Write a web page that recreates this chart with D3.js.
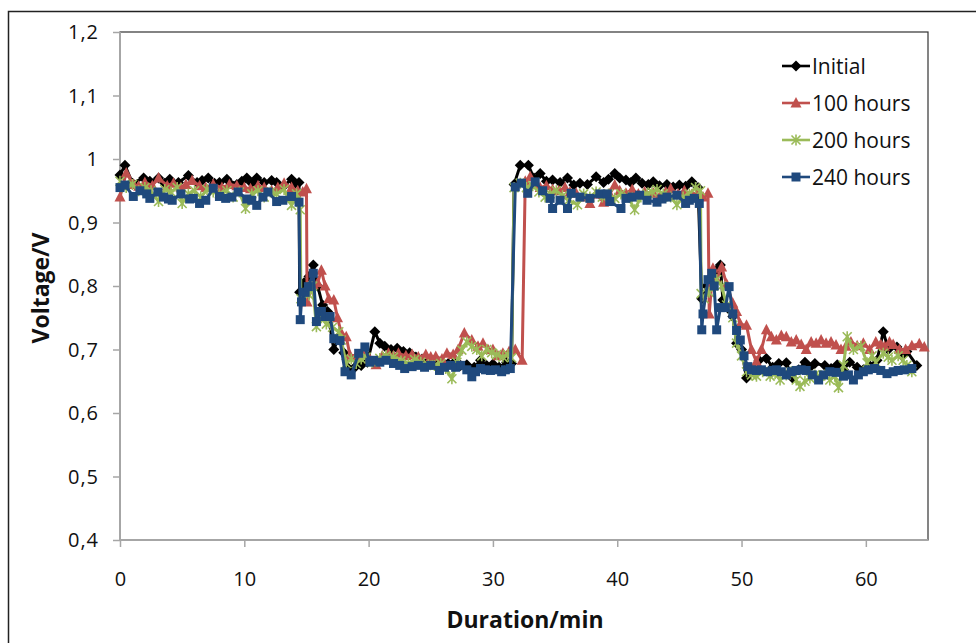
<!DOCTYPE html>
<html>

<head>
    <title>Voltage vs duration</title>
    <script src="https://d3js.org/d3.v7.min.js"></script>
    <style>
        body {
            margin: 0;
            background: #fff;
        }

        text {
            font-family: "Open Sans", sans-serif;
            fill: #111;
        }
    </style>
</head>

<body>
    <svg width="976" height="643"></svg>

    <script>
        // values: [minutes, volts]
        const initial = [
            [0, 0.975], [0.4, 0.99], [1.0, 0.962], [1.9, 0.97], [2.4, 0.965], [3.1, 0.97], [3.6, 0.962], [4.0, 0.968], [4.7, 0.963], [5.5, 0.974],
            [6.2, 0.963], [6.6, 0.966], [7.1, 0.97], [7.6, 0.962], [8.0, 0.963], [8.6, 0.968], [9.4, 0.96], [9.8, 0.965], [10.2, 0.97], [10.6, 0.962],
            [11.0, 0.97], [11.6, 0.963], [12.2, 0.966], [12.6, 0.963], [13.2, 0.958], [13.8, 0.968], [14.1, 0.962], [14.4, 0.963],
            [14.45, 0.79], [14.8, 0.805], [15.2, 0.815], [15.55, 0.833], [15.9, 0.80], [16.3, 0.77], [16.7, 0.76], [17.2, 0.70], [17.6, 0.72], [18.0, 0.695],
            [18.4, 0.67], [18.9, 0.672], [19.4, 0.675], [19.9, 0.68], [20.5, 0.728], [20.9, 0.71], [21.3, 0.705], [21.8, 0.70], [22.3, 0.702], [22.8, 0.697],
            [23.3, 0.695], [23.8, 0.688], [24.3, 0.685], [24.9, 0.68], [25.4, 0.685], [25.9, 0.68], [26.4, 0.678], [26.9, 0.68], [27.4, 0.675], [27.9, 0.676],
            [28.5, 0.672], [29.0, 0.683], [29.5, 0.675], [30.0, 0.677], [30.5, 0.672], [31.1, 0.68], [31.5, 0.678],
            [31.7, 0.96], [32.2, 0.99], [32.85, 0.99], [33.3, 0.97], [33.8, 0.977], [34.3, 0.965], [34.8, 0.967], [35.4, 0.963], [36.0, 0.97], [36.5, 0.959],
            [37.0, 0.962], [37.6, 0.96], [38.3, 0.972], [38.9, 0.963], [39.3, 0.968], [39.8, 0.977], [40.2, 0.97], [40.7, 0.967], [41.1, 0.963], [41.5, 0.97],
            [42.0, 0.962], [42.5, 0.96], [42.9, 0.964], [43.4, 0.958], [44.0, 0.96], [44.5, 0.956], [45.0, 0.959], [45.5, 0.957], [46.0, 0.964], [46.5, 0.955],
            [46.8, 0.78], [47.2, 0.80], [47.6, 0.815], [48.0, 0.825], [48.3, 0.833], [48.5, 0.778], [48.9, 0.765], [49.3, 0.752], [49.6, 0.71], [50.0, 0.70],
            [50.4, 0.655], [50.9, 0.668], [51.4, 0.683], [52.0, 0.686], [52.5, 0.672], [53.0, 0.678], [53.6, 0.679], [54.1, 0.655], [54.6, 0.668], [55.1, 0.68],
            [55.5, 0.672], [55.9, 0.678], [56.7, 0.675], [57.2, 0.67], [57.7, 0.676], [58.2, 0.668], [58.7, 0.68], [59.3, 0.672], [59.8, 0.668], [60.3, 0.675],
            [60.9, 0.683], [61.4, 0.728], [61.8, 0.70], [62.5, 0.704], [62.9, 0.69], [63.3, 0.697], [64.1, 0.675]
        ];

        const hours100 = [
            [0, 0.94], [0.5, 0.978], [1.1, 0.96], [1.5, 0.957], [2.0, 0.963], [2.6, 0.958], [3.1, 0.97], [3.8, 0.958], [4.3, 0.962], [4.9, 0.955],
            [5.3, 0.96], [5.8, 0.966], [6.4, 0.958], [6.9, 0.955], [7.5, 0.96], [8.2, 0.955], [8.8, 0.96], [9.4, 0.958], [10.0, 0.955], [10.5, 0.953],
            [11.1, 0.958], [11.6, 0.955], [12.2, 0.95], [12.7, 0.955], [13.2, 0.962], [13.8, 0.955], [14.3, 0.95], [14.7, 0.948], [15.0, 0.953],
            [15.05, 0.775], [15.55, 0.802], [15.9, 0.805], [16.2, 0.825], [16.5, 0.80], [16.8, 0.78], [17.2, 0.778], [17.5, 0.75], [17.8, 0.726], [18.2, 0.72],
            [18.5, 0.691], [19.0, 0.69], [19.6, 0.694], [20.1, 0.685], [20.6, 0.676], [21.1, 0.69], [21.6, 0.694], [22.0, 0.69], [22.4, 0.694], [23.0, 0.69],
            [23.5, 0.692], [24.0, 0.688], [24.6, 0.692], [25.0, 0.688], [25.4, 0.689], [25.9, 0.685], [26.3, 0.694], [26.8, 0.692], [27.2, 0.70], [27.7, 0.726],
            [28.3, 0.715], [28.8, 0.705], [29.2, 0.71], [29.6, 0.70], [30.0, 0.70], [30.4, 0.69], [30.8, 0.694], [31.3, 0.697], [31.8, 0.70], [32.35, 0.683],
            [32.6, 0.965], [33.0, 0.972], [33.3, 0.96], [33.8, 0.955], [34.3, 0.958], [34.8, 0.952], [35.3, 0.95], [35.8, 0.955], [36.2, 0.948], [36.7, 0.946],
            [37.3, 0.94], [37.8, 0.93], [38.3, 0.945], [38.9, 0.932], [39.4, 0.945], [39.8, 0.959], [40.2, 0.95], [40.7, 0.946], [41.2, 0.952], [41.7, 0.945],
            [42.2, 0.948], [42.9, 0.946], [43.4, 0.94], [43.9, 0.948], [44.3, 0.953], [44.9, 0.945], [45.4, 0.95], [46.0, 0.944], [46.5, 0.948], [46.9, 0.94], [47.3, 0.946],
            [47.4, 0.756], [47.7, 0.828], [48.0, 0.81], [48.4, 0.83], [48.8, 0.803], [49.3, 0.773], [49.6, 0.76], [49.9, 0.74], [50.4, 0.738], [50.8, 0.70],
            [51.2, 0.681], [51.6, 0.70], [52.0, 0.731], [52.4, 0.72], [52.8, 0.715], [53.2, 0.722], [53.6, 0.72], [54.0, 0.712], [54.4, 0.715], [54.8, 0.708],
            [55.2, 0.70], [55.6, 0.712], [56.0, 0.71], [56.4, 0.715], [56.8, 0.71], [57.2, 0.712], [57.6, 0.707], [58.0, 0.70], [58.4, 0.705], [58.8, 0.712],
            [59.3, 0.706], [59.8, 0.71], [60.3, 0.70], [60.8, 0.712], [61.2, 0.708], [61.5, 0.705], [61.9, 0.712], [62.2, 0.708], [62.7, 0.70], [63.2, 0.70],
            [63.7, 0.706], [64.3, 0.709], [64.7, 0.704]
        ];

        const hours200 = [
            [0, 0.965], [0.5, 0.955], [1.0, 0.96], [1.5, 0.95], [2.0, 0.955], [2.5, 0.95], [3.1, 0.933], [3.6, 0.952], [4.1, 0.948], [4.6, 0.955],
            [5.0, 0.93], [5.5, 0.945], [6.0, 0.95], [6.5, 0.94], [7.0, 0.952], [7.5, 0.948], [8.0, 0.945], [8.6, 0.95], [9.1, 0.94], [9.6, 0.948],
            [10.1, 0.922], [10.6, 0.945], [11.1, 0.95], [11.6, 0.94], [12.1, 0.948], [12.6, 0.945], [13.2, 0.952], [13.8, 0.927], [14.2, 0.945], [14.5, 0.92],
            [14.55, 0.78], [14.9, 0.79], [15.2, 0.786], [15.5, 0.80], [15.8, 0.736], [16.2, 0.75], [16.6, 0.74], [17.1, 0.735], [17.6, 0.728], [17.8, 0.715],
            [18.2, 0.678], [18.6, 0.685], [19.0, 0.678], [19.4, 0.685], [19.8, 0.688], [20.3, 0.68], [20.9, 0.686], [21.4, 0.69], [22.0, 0.688], [22.6, 0.682],
            [23.2, 0.678], [23.7, 0.684], [24.2, 0.68], [24.8, 0.676], [25.3, 0.675], [25.8, 0.678], [26.2, 0.67], [26.7, 0.654], [27.1, 0.68], [27.5, 0.699],
            [27.9, 0.712], [28.3, 0.705], [28.7, 0.70], [29.1, 0.69], [29.5, 0.70], [29.9, 0.695], [30.3, 0.692], [30.8, 0.688], [31.2, 0.692], [31.5, 0.687],
            [31.7, 0.955], [32.2, 0.962], [32.7, 0.955], [33.2, 0.958], [33.7, 0.948], [34.2, 0.94], [34.6, 0.945], [35.1, 0.95], [35.6, 0.942], [36.1, 0.935],
            [36.8, 0.928], [37.3, 0.945], [37.8, 0.94], [38.3, 0.948], [38.8, 0.94], [39.3, 0.945], [39.8, 0.938], [40.3, 0.945], [40.9, 0.94], [41.4, 0.92],
            [41.9, 0.94], [42.4, 0.945], [42.8, 0.948], [43.2, 0.952], [43.7, 0.945], [44.3, 0.94], [44.8, 0.928], [45.3, 0.94], [45.8, 0.945], [46.3, 0.955], [46.7, 0.95],
            [46.75, 0.788], [47.0, 0.78], [47.4, 0.79], [47.7, 0.80], [48.0, 0.81], [48.4, 0.80], [48.8, 0.77], [49.3, 0.75], [49.6, 0.71], [50.0, 0.69],
            [50.4, 0.665], [50.8, 0.66], [51.2, 0.658], [51.7, 0.665], [52.3, 0.658], [52.7, 0.662], [53.1, 0.652], [53.6, 0.66], [54.0, 0.665], [54.4, 0.652],
            [54.7, 0.642], [55.1, 0.65], [55.5, 0.655], [55.9, 0.66], [56.3, 0.658], [56.7, 0.66], [57.1, 0.652], [57.5, 0.658], [57.8, 0.64], [58.2, 0.675],
            [58.5, 0.72], [59.0, 0.70], [59.6, 0.705], [60.1, 0.679], [60.5, 0.69], [60.8, 0.68], [61.4, 0.694], [61.8, 0.688], [62.1, 0.683], [62.6, 0.69],
            [63.0, 0.683], [63.3, 0.675], [63.7, 0.665]
        ];

        const hours240 = [
            [0, 0.955], [0.4, 0.959], [1.07, 0.941], [1.6, 0.95], [2.15, 0.945], [2.4, 0.938], [3.05, 0.948], [3.5, 0.94], [3.9, 0.937], [4.2, 0.935],
            [4.9, 0.945], [5.6, 0.937], [5.9, 0.938], [6.4, 0.93], [6.9, 0.935], [7.5, 0.954], [8.0, 0.941], [8.5, 0.938], [9.0, 0.94], [9.5, 0.948],
            [10.2, 0.937], [10.6, 0.935], [11.0, 0.927], [11.5, 0.94], [11.9, 0.948], [12.6, 0.933], [13.1, 0.935], [13.8, 0.941], [14.4, 0.932],
            [14.5, 0.747], [14.6, 0.775], [14.9, 0.79], [15.15, 0.799], [15.55, 0.82], [15.8, 0.744], [16.2, 0.76], [16.5, 0.752], [16.9, 0.752], [17.2, 0.717],
            [17.7, 0.714], [18.1, 0.665], [18.6, 0.66], [19.2, 0.694], [19.7, 0.704], [20.1, 0.68], [20.4, 0.683], [20.9, 0.68], [21.4, 0.683], [22.0, 0.678],
            [22.5, 0.675], [22.9, 0.67], [23.5, 0.673], [24.0, 0.675], [24.5, 0.672], [25.0, 0.675], [25.7, 0.667], [26.1, 0.672], [26.6, 0.675], [27.0, 0.672],
            [27.4, 0.675], [27.9, 0.668], [28.3, 0.657], [28.6, 0.665], [29.0, 0.67], [29.4, 0.668], [29.8, 0.667], [30.2, 0.668], [30.7, 0.665], [31.0, 0.668], [31.4, 0.67],
            [31.8, 0.956], [32.3, 0.962], [32.8, 0.946], [33.4, 0.964], [34.0, 0.95], [34.6, 0.938], [34.8, 0.922], [35.4, 0.935], [36.0, 0.922], [36.3, 0.946],
            [37.0, 0.94], [37.8, 0.938], [38.6, 0.945], [39.2, 0.945], [39.4, 0.933], [40.3, 0.922], [40.7, 0.938], [41.2, 0.94], [41.8, 0.943], [42.4, 0.935],
            [43.2, 0.932], [43.6, 0.937], [44.0, 0.94], [44.8, 0.943], [45.5, 0.93], [45.8, 0.935], [46.2, 0.938], [46.6, 0.93],
            [46.8, 0.731], [46.9, 0.756], [47.3, 0.81], [47.6, 0.82], [47.8, 0.80], [48.0, 0.731], [48.3, 0.766], [48.7, 0.766], [49.0, 0.799], [49.3, 0.756],
            [49.6, 0.73], [49.9, 0.715], [50.2, 0.69], [50.5, 0.673], [50.8, 0.668], [51.2, 0.667], [51.6, 0.668], [52.1, 0.665], [52.5, 0.667], [52.8, 0.668],
            [53.2, 0.665], [53.6, 0.66], [54.0, 0.665], [54.4, 0.667], [54.8, 0.668], [55.2, 0.667], [55.7, 0.66], [56.2, 0.652], [56.6, 0.66], [57.1, 0.665],
            [57.6, 0.664], [58.2, 0.658], [58.6, 0.66], [59.0, 0.652], [59.4, 0.66], [59.8, 0.665], [60.2, 0.668], [60.7, 0.67], [61.2, 0.667], [61.7, 0.662],
            [62.2, 0.665], [62.6, 0.667], [63.1, 0.668], [63.7, 0.67]
        ];

        const seriesNames = ["Initial", "100 hours", "200 hours", "240 hours"];
        const xTicks = [0, 10, 20, 30, 40, 50, 60];
        const yTicks = [0.4, 0.5, 0.6, 0.7, 0.8, 0.9, 1.0, 1.1, 1.2];

        const series = [
            { name: seriesNames[0], values: initial, color: "#000000", marker: "diamond" },
            { name: seriesNames[1], values: hours100, color: "#C0504D", marker: "triangle" },
            { name: seriesNames[2], values: hours200, color: "#9BBB59", marker: "star" },
            { name: seriesNames[3], values: hours240, color: "#1F497D", marker: "square" }
        ];

        const svg = d3.select("svg");
        const plot = { left: 120, right: 928, top: 32, bottom: 540 };

        const x = d3.scaleLinear().domain([0, 65]).range([plot.left, plot.right]);
        const y = d3.scaleLinear().domain([0.4, 1.2]).range([plot.bottom, plot.top]);

        // outer chart frame (runs past the window edge)
        svg.append("rect")
            .attr("x", 8.5).attr("y", 11.5)
            .attr("width", 1000).attr("height", 1000)
            .attr("fill", "none")
            .attr("stroke", "#222")
            .attr("stroke-width", 1.5);

        // plot area border
        svg.append("rect")
            .attr("x", plot.left).attr("y", plot.top)
            .attr("width", plot.right - plot.left)
            .attr("height", plot.bottom - plot.top)
            .attr("fill", "none")
            .attr("stroke", "#333")
            .attr("stroke-width", 1.2);

        const commaFmt = v => String(Math.round(v * 10) / 10).replace(".", ",");

        const yAxis = svg.append("g")
            .attr("transform", `translate(${plot.left},0)`)
            .call(d3.axisLeft(y).tickValues(yTicks).tickSize(7).tickPadding(14).tickFormat(commaFmt));

        const xAxis = svg.append("g")
            .attr("transform", `translate(0,${plot.bottom})`)
            .call(d3.axisBottom(x).tickValues(xTicks).tickSize(7).tickFormat(d3.format("d")));

        [xAxis, yAxis].forEach(g => {
            g.select(".domain").attr("stroke", "#A6A6A6").attr("stroke-width", 2);
            g.selectAll(".tick line").attr("stroke", "#A6A6A6").attr("stroke-width", 1.5);
            g.selectAll(".tick text")
                .attr("fill", "#111")
                .style("font-family", "'Open Sans', sans-serif")
                .style("font-size", "20px");
        });
        yAxis.select(".domain").attr("d", `M0,${plot.bottom}V${plot.top}`);
        xAxis.select(".domain").attr("d", `M${plot.left},0H${plot.right}`);
        yAxis.selectAll(".tick text").style("letter-spacing", "1px").attr("dy", "0.34em");
        xAxis.selectAll(".tick text").attr("dy", null).attr("y", 46);

        // axis titles
        svg.append("text")
            .attr("transform", "translate(49,288) rotate(-90)")
            .attr("text-anchor", "middle")
            .style("font-size", "23px")
            .style("font-weight", "bold")
            .text("Voltage/V");

        svg.append("text")
            .attr("x", 525).attr("y", 628)
            .attr("text-anchor", "middle")
            .style("font-size", "23px")
            .style("font-weight", "bold")
            .text("Duration/min");

        const markerPath = {
            diamond: "M0,-5.5L5.5,0L0,5.5L-5.5,0Z",
            triangle: "M0,-6L5.5,4.5L-5.5,4.5Z",
            square: "M-4.5,-4.5H4.5V4.5H-4.5Z",
            star: "M-4.5,-4.5L4.5,4.5M-4.5,4.5L4.5,-4.5M0,-5.5V5.5"
        };

        function drawMarker(sel, s) {
            sel.attr("d", markerPath[s.marker]);
            if (s.marker === "star") {
                sel.attr("fill", "none").attr("stroke", s.color).attr("stroke-width", 1.6);
            } else {
                sel.attr("fill", s.color).attr("stroke", "none");
            }
        }

        const line = d3.line()
            .x(d => x(d[0]))
            .y(d => y(d[1]));

        const seriesG = svg.append("g")
            .selectAll("g")
            .data(series)
            .join("g");

        seriesG.append("path")
            .attr("d", d => line(d.values))
            .attr("fill", "none")
            .attr("stroke", d => d.color)
            .attr("stroke-width", 3)
            .attr("stroke-linejoin", "round");

        seriesG.each(function (s) {
            d3.select(this).selectAll("path.mk")
                .data(s.values)
                .join("path")
                .attr("class", "mk")
                .attr("transform", d => `translate(${x(d[0])},${y(d[1])})`)
                .call(drawMarker, s);
        });

        // legend
        const legend = svg.append("g")
            .selectAll("g")
            .data(series)
            .join("g")
            .attr("transform", (d, i) => `translate(782,${66 + i * 37})`);

        legend.append("line")
            .attr("x1", 0).attr("x2", 28)
            .attr("stroke", d => d.color)
            .attr("stroke-width", 2.6);

        legend.append("path")
            .attr("transform", "translate(14,0)")
            .each(function (s) { d3.select(this).call(drawMarker, s); });

        legend.append("text")
            .attr("x", 30)
            .attr("dy", "0.36em")
            .style("font-size", "21px")
            .text(d => d.name);
    </script>

</body>

</html>
